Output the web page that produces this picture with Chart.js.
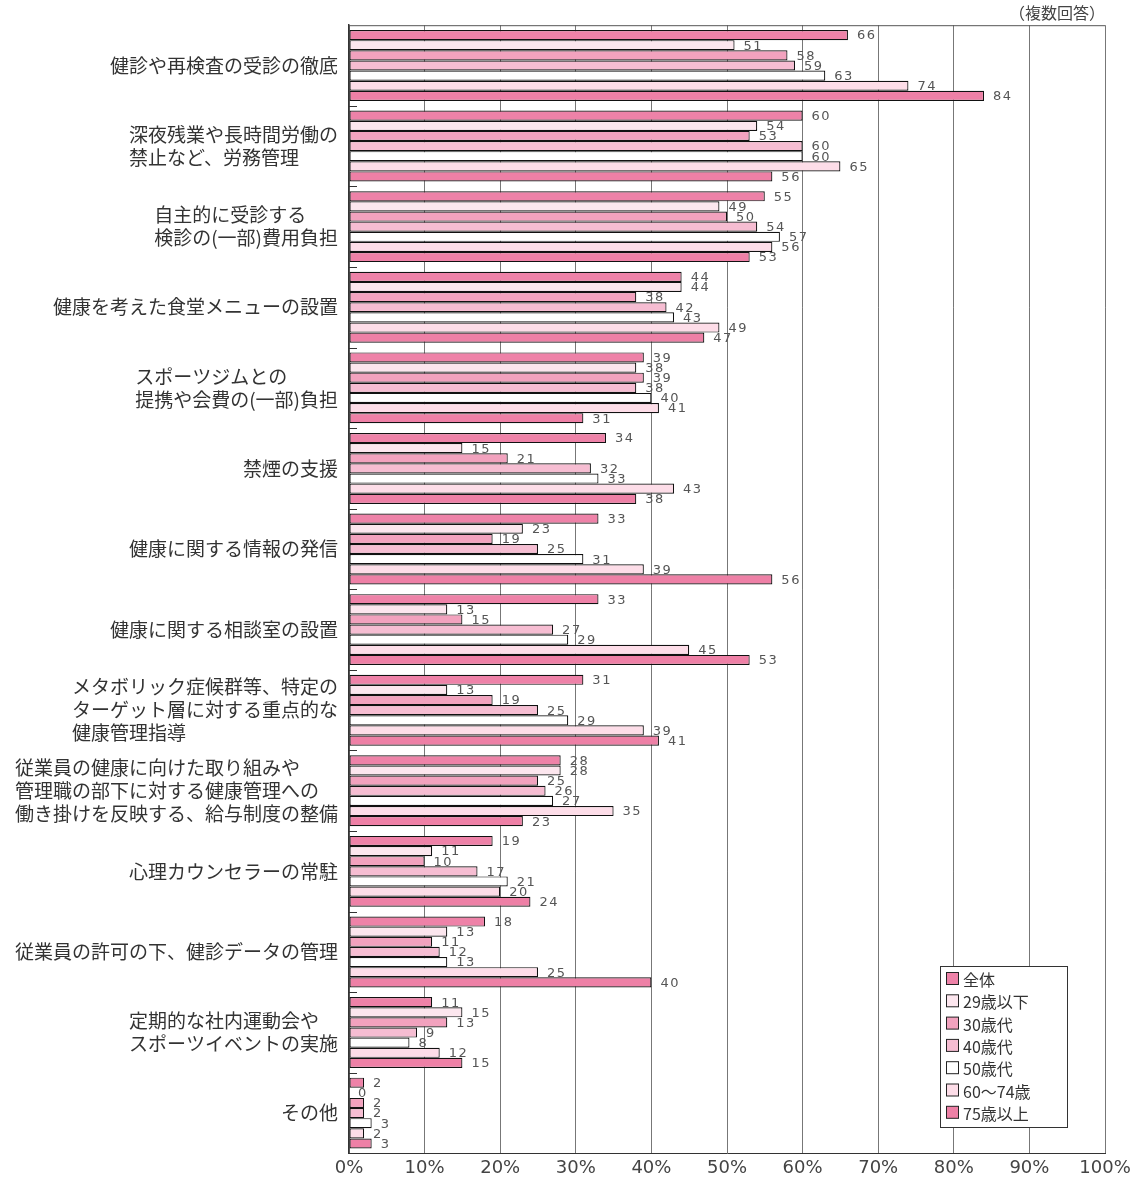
<!DOCTYPE html>
<html>
<head>
<meta charset="utf-8">
<script src="https://cdn.jsdelivr.net/npm/chart.js@4.4.0/dist/chart.umd.min.js"></script>
<style>
  body { margin: 0; background: #fff; }
  canvas { display: block; }
</style>
</head>
<body>
<canvas id="chart" width="1139" height="1183"></canvas>
<script>
// 項目（複数行ラベル）
const categories = [
  ["健診や再検査の受診の徹底"],
  ["深夜残業や長時間労働の", "禁止など、労務管理"],
  ["自主的に受診する", "検診の(一部)費用負担"],
  ["健康を考えた食堂メニューの設置"],
  ["スポーツジムとの", "提携や会費の(一部)負担"],
  ["禁煙の支援"],
  ["健康に関する情報の発信"],
  ["健康に関する相談室の設置"],
  ["メタボリック症候群等、特定の", "ターゲット層に対する重点的な", "健康管理指導"],
  ["従業員の健康に向けた取り組みや", "管理職の部下に対する健康管理への", "働き掛けを反映する、給与制度の整備"],
  ["心理カウンセラーの常駐"],
  ["従業員の許可の下、健診データの管理"],
  ["定期的な社内運動会や", "スポーツイベントの実施"],
  ["その他"]
];

const seriesNames = ["全体", "29歳以下", "30歳代", "40歳代", "50歳代", "60〜74歳", "75歳以上"];

// 各年代の回答率（%）
const total    = [66, 60, 55, 44, 39, 34, 33, 33, 31, 28, 19, 18, 11, 2];
const under29  = [51, 54, 49, 44, 38, 15, 23, 13, 13, 28, 11, 13, 15, 0];
const age30s   = [58, 53, 50, 38, 39, 21, 19, 15, 19, 25, 10, 11, 13, 2];
const age40s   = [59, 60, 54, 42, 38, 32, 25, 27, 25, 26, 17, 12, 9, 2];
const age50s   = [63, 60, 57, 43, 40, 33, 31, 29, 29, 27, 21, 13, 8, 3];
const age60_74 = [74, 65, 56, 49, 41, 43, 39, 45, 39, 35, 20, 25, 12, 2];
const over75   = [84, 56, 53, 47, 31, 38, 56, 53, 41, 23, 24, 40, 15, 3];

const xTicks = [0, 10, 20, 30, 40, 50, 60, 70, 80, 90, 100];

const colors = ["#ee82a8", "#fce6ee", "#f2a2be", "#f6bdd2", "#ffffff", "#fddde8", "#ee80a6"];
const allSeries = [total, under29, age30s, age40s, age50s, age60_74, over75];

const JP = '"Noto Sans CJK JP", "Noto Sans", sans-serif';

// 棒の右に数値、左側に項目名、右下に凡例を描く
const extras = {
  id: "extras",
  afterDatasetsDraw(chart) {
    const c = chart.ctx;
    const area = chart.chartArea;
    const yScale = chart.scales.y;

    // 上枠
    c.save();
    c.strokeStyle = "#555";
    c.lineWidth = 1;
    c.beginPath();
    c.moveTo(area.left, area.top + 0.5);
    c.lineTo(area.right, area.top + 0.5);
    c.stroke();

    // 項目の区切り目盛
    const step = (area.bottom - area.top) / categories.length;
    c.strokeStyle = "#333";
    for (let i = 1; i < categories.length; i++) {
      const y = Math.round(area.top + step * i) + 0.5;
      c.beginPath();
      c.moveTo(area.left, y);
      c.lineTo(area.left + 8, y);
      c.stroke();
    }

    // 数値ラベル
    c.font = '13px "DejaVu Sans", sans-serif';
    c.letterSpacing = "1.5px";
    c.fillStyle = "#555";
    c.textBaseline = "middle";
    c.textAlign = "left";
    chart.data.datasets.forEach((ds, di) => {
      chart.getDatasetMeta(di).data.forEach((bar, i) => {
        c.fillText(String(ds.data[i]), bar.x + 9, bar.y + 1);
      });
    });
    c.letterSpacing = "0px";

    // 項目名（左揃えのブロックを右寄せ）
    c.font = "19px " + JP;
    c.fillStyle = "#333";
    const lineH = 23;
    categories.forEach((lines, i) => {
      const cy = yScale.getPixelForValue(i);
      const w = Math.max(...lines.map(l => c.measureText(l).width));
      const x0 = 338 - w;
      lines.forEach((l, k) => {
        c.fillText(l, x0, cy + (k - (lines.length - 1) / 2) * lineH);
      });
    });

    // 凡例
    const lx = 940, ly = 966, lw = 127, lh = 161;
    c.fillStyle = "#fff";
    c.fillRect(lx, ly, lw, lh);
    c.strokeStyle = "#333";
    c.strokeRect(lx + 0.5, ly + 0.5, lw, lh);
    c.font = "16px " + JP;
    chart.data.datasets.forEach((ds, di) => {
      const y = ly + 13 + di * 22.3;
      c.fillStyle = ds.backgroundColor;
      c.fillRect(lx + 6.5, y - 6.5, 12, 12);
      c.strokeStyle = "#222";
      c.strokeRect(lx + 6.5, y - 6.5, 12, 12);
      c.fillStyle = "#333";
      c.fillText(ds.label, lx + 23, y + 1);
    });
    c.restore();
  }
};

new Chart(document.getElementById("chart"), {
  type: "bar",
  data: {
    labels: categories,
    datasets: seriesNames.map((name, i) => ({
      label: name,
      data: allSeries[i],
      backgroundColor: colors[i],
      borderColor: "#111",
      borderWidth: 1.2,
      borderSkipped: false,
      barPercentage: 1,
      categoryPercentage: 0.88
    }))
  },
  options: {
    indexAxis: "y",
    responsive: false,
    animation: false,
    layout: { padding: { left: 0, right: 34, top: 1, bottom: 0 } },
    plugins: {
      legend: { display: false },
      tooltip: { enabled: false },
      title: {
        display: true,
        text: "（複数回答）",
        align: "end",
        color: "#444",
        font: { family: JP, size: 16, weight: "normal" },
        padding: { top: 2, bottom: 3 }
      }
    },
    scales: {
      x: {
        min: 0,
        max: 100,
        afterBuildTicks: (scale) => {
          scale.ticks = xTicks.map(v => ({ value: v }));
        },
        ticks: {
          color: "#444",
          font: { family: '"DejaVu Sans", sans-serif', size: 18 },
          padding: 4,
          callback: (v) => v + "%"
        },
        grid: { color: "#777", lineWidth: 1, drawTicks: false },
        border: { color: "#333", width: 1 }
      },
      y: {
        ticks: { display: false },
        grid: { display: false },
        border: { color: "#333", width: 1.5 },
        afterFit: (scale) => { scale.width = 349; }
      }
    }
  },
  plugins: [extras]
});
</script>
</body>
</html>
